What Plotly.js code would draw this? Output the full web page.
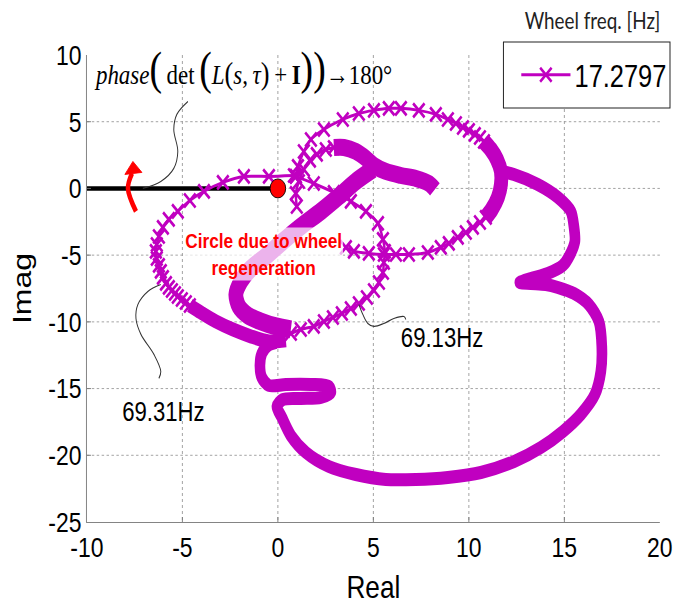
<!DOCTYPE html>
<html>
<head>
<meta charset="utf-8">
<script src="https://cdn.plot.ly/plotly-3.0.1.min.js"></script>
<style>
  html, body { margin: 0; padding: 0; background: #fff; overflow: hidden; }
  /* the figure is laid out wide and condensed horizontally to 673 px */
  #chart { width: 821px; height: 608px; transform: scaleX(0.8197); transform-origin: 0 0; }
</style>
</head>
<body>
<div id="chart"></div>
<script>
// Nyquist locus of det(L(s,tau)+I), wheel frequency 17.2797 Hz

// Regeneration circle: sparse samples (line with markers)
const circleRe = [0.84, -0.47, -1.78, -2.88, -3.87, -4.61, -5.24, -5.71, -6.02, -6.23, -6.34, -6.39, -6.34, -6.23, -6.13, -6.02, -5.86, -5.71, -5.55, -5.39, -5.24, -5.03, -4.82, -4.61];
const circleIm = [0.97, 0.90, 0.90, 0.45, -0.22, -0.90, -1.72, -2.32, -2.92, -3.60, -4.20, -4.72, -5.25, -5.77, -6.22, -6.67, -7.12, -7.42, -7.65, -7.87, -8.10, -8.32, -8.55, -8.77];

// Regeneration circle: densely sampled lower arc
const circleBandRe = [-4.61, -4.03, -3.25, -2.36, -1.41, -0.47, 0.42];
const circleBandIm = [-8.77, -9.30, -9.97, -10.57, -11.09, -11.47, -11.39];

// Regeneration circle: right-hand return arc
const circleRightRe = [0.68, 1.20, 1.88, 2.41, 2.88, 3.35, 3.82, 4.24, 4.66, 5.03, 5.29, 5.50, 5.55, 5.60, 5.50, 5.24, 4.61, 3.82, 2.93, 1.88, 0.94];
const circleRightIm = [-10.87, -10.57, -10.34, -9.97, -9.67, -9.37, -9.00, -8.62, -8.17, -7.65, -7.05, -6.30, -5.55, -4.72, -3.82, -2.62, -1.72, -0.97, -0.30, 0.37, 0.90];

// Upper loop, sparse part
const upperRe = [0.94, 1.05, 1.36, 1.73, 2.41, 3.40, 4.24, 5.03, 5.81, 6.44, 7.38, 8.27, 8.90, 9.32, 9.69, 10.00, 10.31, 10.58, 10.79];
const upperIm = [0.90, 1.65, 2.77, 3.67, 4.42, 5.17, 5.62, 5.85, 6.00, 6.00, 5.85, 5.55, 5.17, 4.87, 4.57, 4.35, 4.05, 3.82, 3.52];

// Upper loop, dense right side
const upperBandRe = [10.79, 11.15, 11.47, 11.68, 11.68, 11.52, 11.20, 10.89];
const upperBandIm = [3.52, 2.92, 2.17, 1.27, 0.30, -0.67, -1.57, -2.17];

// Upper loop, sparse lower return
const upperLowRe = [10.89, 10.58, 10.21, 9.84, 9.42, 8.95, 8.53, 7.85, 6.86, 6.18, 5.55, 4.76, 3.98, 3.56];
const upperLowIm = [-2.17, -2.55, -2.92, -3.30, -3.67, -4.12, -4.42, -4.80, -4.95, -4.95, -4.95, -4.87, -4.72, -4.42];

// Outer lobes, bottom loop, small loop and return to the circle (dense)
const outerRe = [11.68, 12.36, 13.61, 14.66, 15.34, 15.50, 15.55, 15.30, 14.92, 14.14, 13.25, 12.67, 13.25, 14.03, 14.66, 15.50, 16.28, 16.81, 16.96, 16.91, 16.60, 15.86, 14.92, 13.77, 12.36, 10.63, 8.90, 7.23, 5.65, 4.08, 2.67, 1.47, 0.68, 0.21, -0.05, 0.26, 1.20, 2.25, 2.77, 2.67, 1.73, 0.42, -0.47, -0.84, -0.94, -0.84, -0.52, -0.10];
const outerIm = [1.27, 1.05, 0.30, -0.67, -1.72, -2.85, -3.97, -4.95, -5.77, -6.37, -6.75, -7.05, -7.12, -7.20, -7.42, -7.87, -8.70, -9.97, -11.84, -13.72, -15.44, -16.94, -18.22, -19.42, -20.47, -21.29, -21.66, -21.81, -21.81, -21.44, -20.84, -19.79, -18.52, -17.17, -16.34, -15.82, -15.74, -15.67, -15.29, -14.84, -14.69, -14.69, -14.77, -14.17, -13.27, -12.37, -11.77, -11.54];

// Inner hook, sparse part
const hookRe = [0.99, 0.94, 1.10, 1.36, 1.68, 2.04, 2.51, 2.93];
const hookIm = [-1.35, -0.37, 0.52, 1.42, 2.10, 2.55, 2.92, 3.07];

// Inner hook, dense part
const hookBandRe = [2.93, 3.46, 4.08, 4.61, 5.03, 5.65, 6.44, 7.23, 7.91, 8.22];
const hookBandIm = [3.07, 3.07, 2.77, 2.25, 1.72, 1.27, 0.97, 0.75, 0.37, -0.07];

// Dense diagonal branch
const diagRe = [4.97, 4.08, 3.19, 2.25, 1.20, 0.26, -0.63, -1.41, -1.94, -2.20, -2.04, -1.57, -0.89, -0.10, 0.68];
const diagIm = [1.42, 0.52, -0.60, -1.72, -2.85, -3.97, -5.10, -6.00, -6.97, -7.95, -8.85, -9.52, -9.97, -10.34, -10.57];

// Negative real axis up to the critical point
const critRe = [-10, 0];
const critIm = [0, 0];
const critPointRe = [0];
const critPointIm = [0];

// Callout leaders
const leadPhaseRe = [-4.71, -5.29, -5.45, -5.24, -5.45, -6.13, -7.07];
const leadPhaseIm = [6.52, 5.55, 4.42, 2.77, 1.50, 0.52, 0.00];
const lead6931Re = [-6.13, -6.81, -7.33, -7.43, -7.17, -6.49, -6.13, -6.23];
const lead6931Im = [-7.20, -7.72, -8.70, -9.75, -10.94, -12.44, -13.72, -14.24];
const lead6913Re = [4.24, 4.45, 4.71, 5.03, 5.55, 6.07, 6.60, 6.70];
const lead6913Im = [-8.70, -9.45, -10.12, -10.34, -10.12, -9.75, -9.60, -9.82];

// Encirclement arrow
const arcRe = [-7.64, -7.85, -7.43];
const arcIm = [1.12, 0.00, -1.72];
const headRe = [-7.59, -8.01, -7.12, -7.59];
const headIm = [2.02, 1.05, 1.20, 2.02];

// Axis ticks
const xTickVals = [-10, -5, 0, 5, 10, 15, 20];
const xTickText = ['-10', '-5', '0', '5', '10', '15', '20'];
const yTickVals = [-25, -20, -15, -10, -5, 0, 5, 10];
const yTickText = ['-25', '-20', '-15', '-10', '-5', '0', '5', '10'];

const MAG = '#C000C0';
const SANS = 'Liberation Sans, Arial, sans-serif';
const SERIF = 'Liberation Serif, Times New Roman, serif';

function sparse(re, im, legend) {
  return {
    x: re, y: im, type: 'scatter', mode: 'lines+markers',
    name: '17.2797', showlegend: !!legend, hoverinfo: 'skip',
    line: { color: MAG, width: 3, shape: 'spline', smoothing: 0.6 },
    marker: { symbol: 'x-thin', size: 14, color: MAG, line: { color: MAG, width: 3 } }
  };
}
function dense(re, im, w) {
  return {
    x: re, y: im, type: 'scatter', mode: 'lines', showlegend: false, hoverinfo: 'skip',
    line: { color: MAG, width: w, shape: 'spline', smoothing: 0.8 }
  };
}
function leader(re, im) {
  return {
    x: re, y: im, type: 'scatter', mode: 'lines', showlegend: false, hoverinfo: 'skip',
    line: { color: '#333', width: 1.2, shape: 'spline', smoothing: 1 }
  };
}

const traces = [
  { x: critRe, y: critIm, type: 'scatter', mode: 'lines', showlegend: false, hoverinfo: 'skip',
    line: { color: '#000', width: 4.5 } },
  dense(outerRe, outerIm, 13),
  dense(diagRe, diagIm, 18),
  dense(hookBandRe, hookBandIm, 17),
  dense(circleBandRe, circleBandIm, 14),
  dense(upperBandRe, upperBandIm, 17),
  sparse(circleRe, circleIm, true),
  sparse(circleRightRe, circleRightIm),
  sparse(upperRe, upperIm),
  sparse(upperLowRe, upperLowIm),
  sparse(hookRe, hookIm),
  leader(leadPhaseRe, leadPhaseIm),
  leader(lead6931Re, lead6931Im),
  leader(lead6913Re, lead6913Im),
  { x: arcRe, y: arcIm, type: 'scatter', mode: 'lines', showlegend: false, hoverinfo: 'skip',
    line: { color: '#FF0000', width: 5.5, shape: 'spline' } },
  { x: headRe, y: headIm, type: 'scatter', mode: 'lines', fill: 'toself', fillcolor: '#FF0000',
    showlegend: false, hoverinfo: 'skip', line: { color: '#FF0000', width: 1 } },
  { x: critPointRe, y: critPointIm, type: 'scatter', mode: 'markers', showlegend: false, hoverinfo: 'skip',
    marker: { symbol: 'circle', size: 19, color: '#FF0000', line: { color: '#000', width: 1 } } }
];

const axisCommon = {
  showgrid: true, gridcolor: '#999', griddash: 'dot', gridwidth: 1,
  zeroline: false, showline: true, linecolor: '#777', linewidth: 1,
  ticks: 'inside', ticklen: 5, tickcolor: '#777',
  tickfont: { family: SANS, size: 28, color: '#000' }
};

// stability criterion, typeset with enlarged delimiters
const sz = (s, px) => '<span style="font-size:' + px + 'px">' + s + '</span>';
const TS = '\u2009';
const eqText =
  sz('<i>phase</i>', 28) + sz('(', 46) + sz(TS + 'det' + TS, 28) + sz('(', 46) +
  sz('<i>L</i>', 28) + sz('(', 32) + sz('<i>s</i>,' + TS + '<i>τ</i>', 28) + sz(')', 32) +
  sz(TS + '+' + TS + '<b>I</b>', 28) + sz('))', 46) + sz('→180°', 28);

const layout = {
  width: 821, height: 608,
  margin: { l: 106, r: 16, t: 55, b: 86, autoexpand: false },
  paper_bgcolor: '#fff', plot_bgcolor: '#fff',
  xaxis: Object.assign({}, axisCommon, {
    range: [-10, 20], tickvals: xTickVals, ticktext: xTickText,
    title: { text: 'Real', font: { family: SANS, size: 32, color: '#000' }, standoff: 14 }
  }),
  yaxis: Object.assign({}, axisCommon, {
    range: [-25, 10], tickvals: yTickVals, ticktext: yTickText,
    title: { text: 'Imag', font: { family: SANS, size: 32, color: '#000' }, standoff: 10 }
  }),
  showlegend: true,
  legend: {
    x: 0.751, y: 0.957, xanchor: 'left', yanchor: 'middle',
    bgcolor: 'rgba(0,0,0,0)', borderwidth: 0,
    font: { family: SANS, size: 31, color: '#000' },
    itemwidth: 60
  },
  shapes: [
    { type: 'rect', xref: 'paper', yref: 'paper', layer: 'above',
      x0: 0.727, x1: 1.0177, y0: 0.8865, y1: 1.0278,
      fillcolor: '#fff', line: { color: '#222', width: 1.2 } }
  ],
  annotations: [
    { xref: 'paper', yref: 'paper', x: 1.0037, y: 1.075, xanchor: 'right', yanchor: 'middle',
      text: 'Wheel freq. [Hz]', showarrow: false,
      font: { family: 'Lato, Open Sans, sans-serif', size: 23, color: '#222' } },
    { xref: 'paper', yref: 'paper', x: 0.0107, y: 0.972, xanchor: 'left', yanchor: 'middle',
      text: eqText, showarrow: false,
      font: { family: SERIF, size: 28, color: '#000' } },
    { xref: 'x', yref: 'y', x: -0.73, y: -4.95, xanchor: 'center', yanchor: 'middle',
      text: 'Circle due to wheel<br>regeneration', showarrow: false, align: 'center',
      bgcolor: 'rgba(255,255,255,0.7)',
      font: { family: SANS, size: 21, color: '#FF0000', weight: 'bold' } },
    { xref: 'x', yref: 'y', x: -5.97, y: -16.72, xanchor: 'center', yanchor: 'middle',
      text: '69.31Hz', showarrow: false, font: { family: SANS, size: 27, color: '#000' } },
    { xref: 'x', yref: 'y', x: 8.59, y: -11.24, xanchor: 'center', yanchor: 'middle',
      text: '69.13Hz', showarrow: false, font: { family: SANS, size: 27, color: '#000' } }
  ]
};

Plotly.newPlot('chart', traces, layout, { displayModeBar: false, staticPlot: true });
</script>
</body>
</html>
